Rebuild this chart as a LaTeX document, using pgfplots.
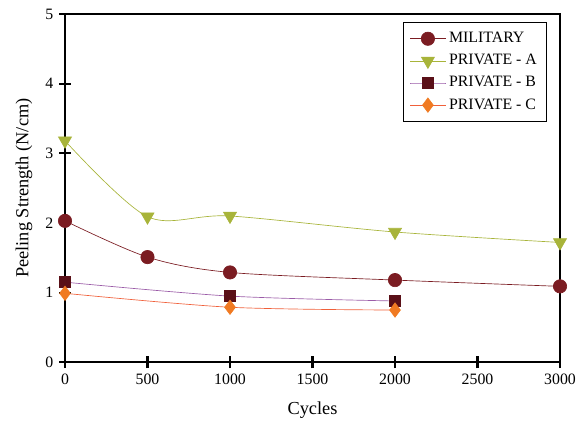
\documentclass[border=0pt]{standalone}
\usepackage{pgfplots}
\pgfplotsset{compat=1.18}
\usepackage{fontspec}
\setmainfont{Liberation Serif}
\definecolor{mil}{HTML}{7B1C22}
\definecolor{pa}{HTML}{A8B43A}
\definecolor{pb}{HTML}{5A1018}
\definecolor{pbl}{HTML}{9B5CA8}
\definecolor{pc}{HTML}{F07A22}
\definecolor{pcl}{HTML}{F0603A}
\begin{document}
\begin{tikzpicture}
\begin{axis}[
  scale only axis,
  width=297pt, height=209pt,
  xmin=0, xmax=3000, ymin=0, ymax=5,
  xtick={0,500,...,3000}, ytick={0,1,...,5},
  tick pos=left,
  tick align=center,
  major tick length=7pt,
  every tick/.style={black, line width=1.3pt},
  axis line style={black, line width=1.2pt},
  clip=false,
  /pgf/number format/assume math mode=true,
  /pgf/number format/1000 sep={},
  ticklabel style={font=\fontsize{9.5}{11}\selectfont},
  xlabel={Cycles}, ylabel={Peeling Strength (N/cm)},
  label style={font=\fontsize{11}{13}\selectfont},
  xlabel style={at={(axis description cs:0.5,-0.138)}, anchor=center},
  ylabel style={at={(axis description cs:-0.083,0.5)}, anchor=center},
  legend style={at={(0.974,0.977)}, anchor=north east, draw=black, thin,
    font=\fontsize{9.5}{11}\selectfont, row sep=1.5pt, inner xsep=4pt, inner ysep=4pt},
  legend cell align=left,
  legend image code/.code={\draw[mark repeat=2,mark phase=2,#1] plot coordinates {(0cm,0cm) (0.37cm,0cm) (0.74cm,0cm)};},
]
\coordinate (bl) at (rel axis cs:-0.1313,-0.175);
\coordinate (tr) at (rel axis cs:1.0424,1.040);
\pgfplotsinvokeforeach{500,1000,1500,2000,2500}{
  \draw[black, line width=1.3pt] (axis cs:#1,0) ++(0,-3.5pt) -- ++(0,7pt);
}
\pgfplotsinvokeforeach{1,2,3,4}{
  \draw[black, line width=1.3pt] (axis cs:0,#1) ++(-3.5pt,0) -- ++(7pt,0);
}
\draw[black, line width=1.3pt] (axis cs:0,0) -- ++(-3.5pt,0);
\draw[black, line width=1.3pt] (axis cs:0,5) -- ++(-3.5pt,0);
\draw[black, line width=1.3pt] (axis cs:0,0) -- ++(0,-3.5pt);
\draw[black, line width=1.3pt] (axis cs:3000,0) -- ++(0,-3.5pt);
\addplot[mil, thin, smooth, tension=0.5, mark=*, mark size=4pt, mark options={fill=mil, draw=mil}]
  coordinates {(0,2.03) (500,1.51) (1000,1.29) (2000,1.18) (3000,1.09)};
\addlegendentry{MILITARY}
\addplot[pa, thin, smooth, tension=0.5, mark=triangle*, mark size=4.5pt, mark options={fill=pa, draw=pa, rotate=180}]
  coordinates {(0,3.18) (500,2.09) (1000,2.10) (2000,1.87) (3000,1.72)};
\addlegendentry{PRIVATE - A}
\addplot[pbl, thin, smooth, tension=0.5, mark=square*, mark size=3.3pt, mark options={fill=pb, draw=pb}]
  coordinates {(0,1.15) (1000,0.95) (2000,0.88)};
\addlegendentry{PRIVATE - B}
\addplot[pcl, thin, smooth, tension=0.5, mark=diamond*, mark size=4.3pt, mark options={fill=pc, draw=pc}]
  coordinates {(0,0.99) (1000,0.79) (2000,0.75)};
\addlegendentry{PRIVATE - C}
\end{axis}
\pgfresetboundingbox
\path (bl) rectangle (tr);
\end{tikzpicture}
\end{document}
